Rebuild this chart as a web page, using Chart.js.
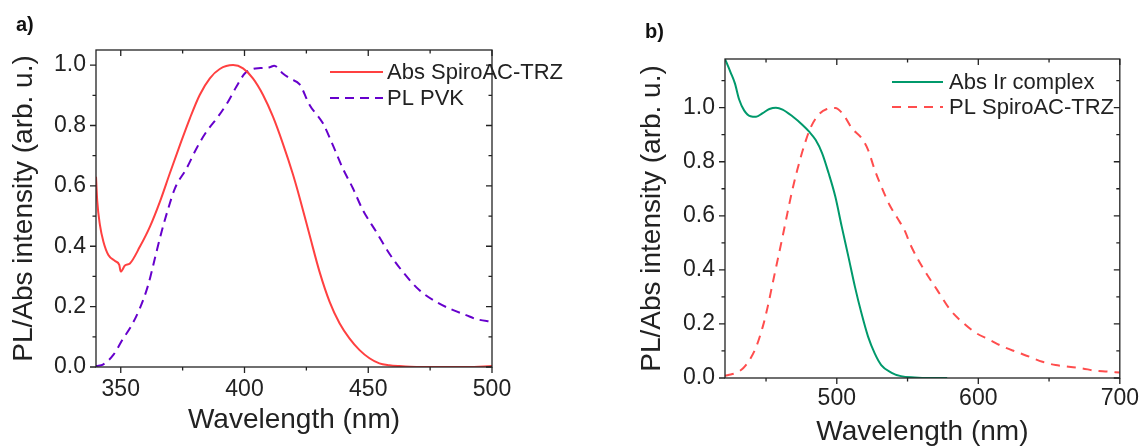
<!DOCTYPE html>
<html>
<head>
<meta charset="utf-8">
<script src="https://cdn.jsdelivr.net/npm/chart.js@4.4.1/dist/chart.umd.min.js"></script>
<style>
  html, body { margin: 0; padding: 0; background: #fff; }
  body { width: 1146px; height: 446px; position: relative; overflow: hidden; }
  .panel { position: absolute; top: 0; height: 446px; }
  #wrapA { left: 0; width: 600px; }
  #wrapB { left: 600px; width: 546px; }
</style>
</head>
<body>
<div class="panel" id="wrapA"><canvas id="chartA"></canvas></div>
<div class="panel" id="wrapB"><canvas id="chartB"></canvas></div>
<script>
// panel a) - Abs SpiroAC-TRZ / PL PVK
const absSpiroWl = [340, 340.5, 341.6, 343, 345, 347.7, 349.4, 350, 351.7, 353.7, 357.7, 361.8, 365.8, 369.8, 373.9, 377.9, 381.9, 386, 390, 395.4, 399.4, 403.4, 407.5, 411.5, 415.5, 419.5, 422.3, 426.3, 430.3, 434.4, 438.4, 442.4, 446.5, 450.5, 454.5, 458.5, 462.6, 467, 480, 490, 500];
const absSpiroVal = [0.63, 0.55, 0.47, 0.415, 0.371, 0.351, 0.338, 0.316, 0.336, 0.343, 0.398, 0.465, 0.547, 0.641, 0.735, 0.823, 0.901, 0.956, 0.987, 1.0, 0.989, 0.956, 0.901, 0.829, 0.74, 0.64, 0.56, 0.437, 0.316, 0.216, 0.145, 0.095, 0.056, 0.029, 0.012, 0.006, 0.003, 0.001, 0, 0, 0.003];

const plPvkWl = [340, 343, 347, 351, 353.7, 357.7, 361.1, 363.8, 366.5, 369.2, 371.9, 376.6, 380.6, 384.6, 389.3, 393.3, 396.7, 400.1, 403.4, 406.5, 410.2, 412, 415.5, 418.5, 422.3, 426.3, 431.7, 435.7, 439.7, 443.8, 447.8, 453.2, 458.5, 463.9, 470.6, 477.4, 484.1, 489.5, 493.5, 500];
const plPvkVal = [0.003, 0.009, 0.04, 0.095, 0.128, 0.194, 0.272, 0.36, 0.448, 0.525, 0.592, 0.658, 0.724, 0.779, 0.829, 0.878, 0.928, 0.972, 0.987, 0.99, 0.993, 0.998, 0.972, 0.955, 0.936, 0.868, 0.807, 0.735, 0.658, 0.592, 0.52, 0.448, 0.376, 0.316, 0.255, 0.216, 0.189, 0.172, 0.159, 0.15];

// panel b) - Abs Ir complex / PL SpiroAC-TRZ
const absIrWl = [421, 425, 428, 431, 434.5, 439, 443, 447.7, 452.4, 457, 461.7, 468.6, 475.6, 480.3, 485, 489.6, 494.2, 498.9, 503.5, 508.2, 512.8, 517.4, 522.1, 526.8, 531.4, 538.4, 545.3, 555, 565, 578];
const absIrVal = [1.18, 1.13, 1.09, 1.03, 0.99, 0.968, 0.966, 0.98, 0.995, 1.0, 0.993, 0.968, 0.937, 0.912, 0.881, 0.832, 0.758, 0.672, 0.56, 0.449, 0.338, 0.24, 0.153, 0.091, 0.048, 0.02, 0.007, 0.002, 0, 0];

const plSpiroWl = [421, 423.3, 429.2, 433.8, 438.4, 443.1, 447.7, 451.2, 454.7, 458.2, 461.7, 465.1, 468.6, 472.1, 476.8, 481.4, 487.2, 493, 498.9, 504.7, 510.5, 517.4, 522.1, 526.8, 531.4, 537.2, 543, 548, 552.3, 561.7, 570.9, 580.2, 589.5, 598.8, 608.1, 617.4, 626.7, 636, 645.3, 654.6, 663.9, 673.2, 682.5, 691, 700];
const plSpiroVal = [0.008, 0.011, 0.02, 0.036, 0.067, 0.116, 0.19, 0.264, 0.351, 0.437, 0.523, 0.61, 0.696, 0.77, 0.857, 0.925, 0.974, 0.995, 0.999, 0.974, 0.925, 0.888, 0.844, 0.77, 0.709, 0.641, 0.59, 0.545, 0.49, 0.4, 0.326, 0.252, 0.203, 0.165, 0.141, 0.116, 0.097, 0.079, 0.06, 0.048, 0.042, 0.036, 0.027, 0.024, 0.02];

// ticks
const xMajorA = [350, 400, 450, 500];
const xMinorA = [375, 425, 475];
const xMajorB = [500, 600, 700];
const xMinorB = [450, 550, 650];
const yMajor = [0, 0.2, 0.4, 0.6, 0.8, 1.0];
const yMinorA = [0.1, 0.3, 0.5, 0.7, 0.9];
const yMinorB = [0.1, 0.3, 0.5, 0.7, 0.9, 1.1];

const FONT = "'Liberation Sans', Arial, sans-serif";
const INK = "#222";

const pts = (xs, ys) => xs.map((x, i) => ({ x: x, y: ys[i] }));

// box, mirrored ticks, minor ticks, legend and panel letter
const frameTicks = {
  id: "frameTicks",
  afterDraw(chart, args, o) {
    const { ctx, chartArea: a } = chart;
    const xs = chart.scales.x, ys = chart.scales.y;
    ctx.save();
    ctx.strokeStyle = INK;
    ctx.lineWidth = 1.3;
    ctx.strokeRect(a.left, a.top, a.right - a.left, a.bottom - a.top);

    ctx.beginPath();
    const seg = (x1, y1, x2, y2) => { ctx.moveTo(x1, y1); ctx.lineTo(x2, y2); };
    const xt = (vals, len) => vals.forEach(v => {
      const p = xs.getPixelForValue(v);
      seg(p, a.bottom, p, a.bottom + len);
      seg(p, a.top, p, a.top + len);
    });
    const yt = (vals, len) => vals.forEach(v => {
      const p = ys.getPixelForValue(v);
      seg(a.left - len, p, a.left, p);
      seg(a.right - len, p, a.right, p);
    });
    xt(o.xMajor, 6); xt(o.xMinor, 3.5);
    yt(o.yMajor, 6); yt(o.yMinor, 3.5);
    ctx.stroke();

    // legend
    ctx.font = "22px " + FONT;
    ctx.textBaseline = "middle";
    ctx.textAlign = "left";
    chart.data.datasets.forEach((ds, i) => {
      const y = o.legend.y[i];
      ctx.beginPath();
      ctx.strokeStyle = ds.borderColor;
      ctx.lineWidth = 2.2;
      ctx.setLineDash(ds.borderDash || []);
      ctx.moveTo(o.legend.x1, y);
      ctx.lineTo(o.legend.x2, y);
      ctx.stroke();
      ctx.setLineDash([]);
      ctx.fillStyle = INK;
      ctx.fillText(ds.label, o.legend.tx, y + 1);
    });

    ctx.font = "bold 20px " + FONT;
    ctx.fillStyle = "#111";
    ctx.fillText(o.tag.text, o.tag.x, o.tag.y);
    ctx.restore();
  }
};

function makeChart(id, cfg) {
  return new Chart(document.getElementById(id), {
    type: "line",
    data: { datasets: cfg.datasets },
    options: {
      responsive: true,
      maintainAspectRatio: false,
      animation: false,
      layout: { padding: cfg.pad },
      elements: { point: { radius: 0 }, line: { borderWidth: 2, cubicInterpolationMode: "monotone" } },
      plugins: {
        legend: { display: false },
        tooltip: { enabled: false },
        frameTicks: cfg.frame
      },
      scales: {
        x: {
          type: "linear",
          min: cfg.xMin,
          max: cfg.xMax,
          afterBuildTicks: s => { s.ticks = cfg.frame.xMajor.map(v => ({ value: v })); },
          afterFit: s => { s.height = cfg.xH; },
          grid: { display: false, drawTicks: false },
          border: { display: false },
          ticks: { autoSkip: false, maxRotation: 0, padding: cfg.xPad, color: INK, font: { family: FONT, size: 23 }, callback: v => String(v) },
          title: { display: true, text: "Wavelength (nm)", color: INK, font: { family: FONT, size: 28, lineHeight: 1 }, padding: { top: 0, bottom: cfg.xTitlePad } }
        },
        y: {
          min: 0,
          max: cfg.yMax,
          afterBuildTicks: s => { s.ticks = yMajor.map(v => ({ value: v })); },
          afterFit: s => { s.width = cfg.yW; },
          grid: { display: false, drawTicks: false },
          border: { display: false },
          ticks: { autoSkip: false, padding: 10, color: INK, font: { family: FONT, size: 23 }, callback: v => Number(v).toFixed(1) },
          title: { display: true, text: "PL/Abs intensity (arb. u.)", color: INK, font: { family: FONT, size: 28, lineHeight: 1 }, padding: { top: cfg.yTitlePad, bottom: 0 } }
        }
      }
    },
    plugins: [frameTicks]
  });
}

makeChart("chartA", {
  datasets: [
    { label: "Abs SpiroAC-TRZ", data: pts(absSpiroWl, absSpiroVal), borderColor: "#ff4040", fill: false },
    { label: "PL PVK", data: pts(plPvkWl, plPvkVal), borderColor: "#6600cc", borderDash: [9, 6], fill: false }
  ],
  pad: { top: 50, right: 108, left: 0, bottom: 0 },
  xMin: 340, xMax: 500, yMax: 1.05,
  xH: 79, yW: 96, xPad: 9, xTitlePad: 12, yTitlePad: 10,
  frame: {
    xMajor: xMajorA, xMinor: xMinorA, yMajor: yMajor, yMinor: yMinorA,
    legend: { x1: 330, x2: 383, tx: 387, y: [72, 98] },
    tag: { text: "a)", x: 16, y: 25 }
  }
});

makeChart("chartB", {
  datasets: [
    { label: "Abs Ir complex", data: pts(absIrWl, absIrVal), borderColor: "#00996b", fill: false },
    { label: "PL SpiroAC-TRZ", data: pts(plSpiroWl, plSpiroVal), borderColor: "#ff4d4d", borderDash: [9, 7], fill: false }
  ],
  pad: { top: 59, right: 21, left: 0, bottom: 0 },
  xMin: 421, xMax: 700, yMax: 1.18,
  xH: 68, yW: 125, xPad: 7, xTitlePad: 0, yTitlePad: 38,
  frame: {
    xMajor: xMajorB, xMinor: xMinorB, yMajor: yMajor, yMinor: yMinorB,
    legend: { x1: 292, x2: 343, tx: 349, y: [82, 107] },
    tag: { text: "b)", x: 45, y: 32 }
  }
});
</script>
</body>
</html>
